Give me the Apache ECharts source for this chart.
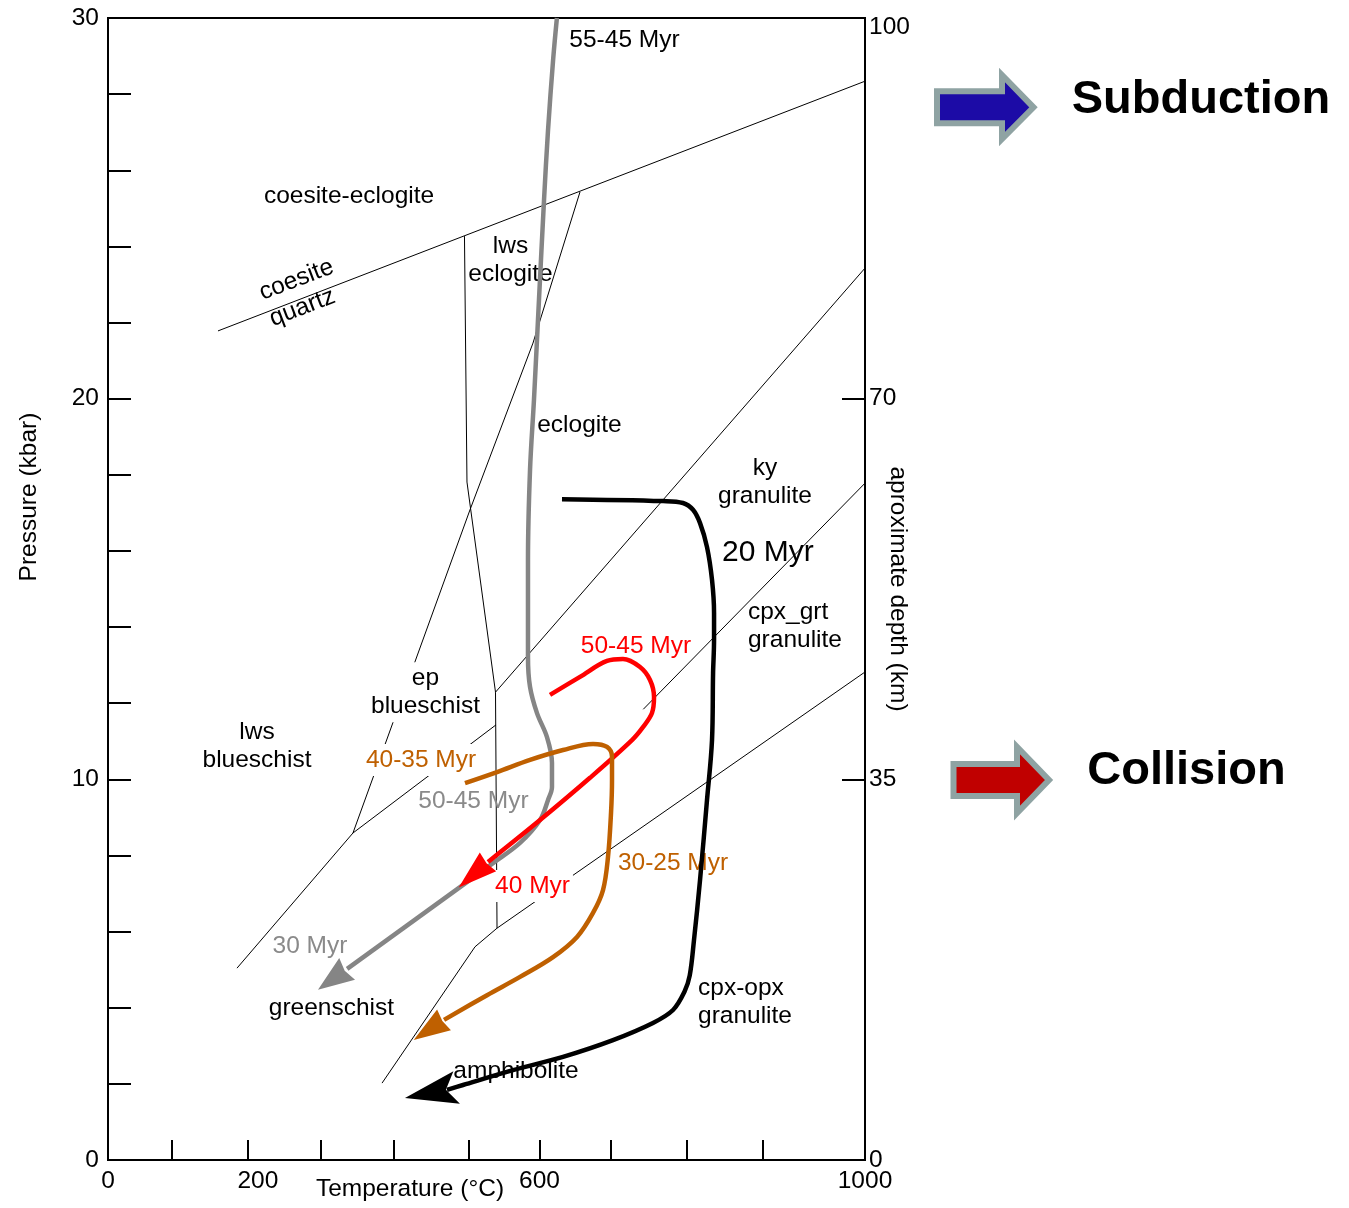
<!DOCTYPE html>
<html>
<head>
<meta charset="utf-8">
<title>P-T paths</title>
<script src="https://cdn.jsdelivr.net/npm/echarts@6/dist/echarts.min.js"></script>
<style>
  html, body { margin: 0; padding: 0; background: #ffffff; }
  #chart { width: 1349px; height: 1208px; }
</style>
</head>
<body>
<div id="chart"></div>
<script>
// All points are [temperature (°C), pressure (kbar)].

// Axis tick marks and labels
const tempTickValues = [84.5, 184.3, 281.4, 377.8, 476.2, 570.0, 664.5, 764.8, 864.6];
const tempLabelValues = [0, 198, 570, 1000];
const tempLabelTexts = ['0', '200', '600', '1000'];
const pressureLabelValues = [0, 10, 20, 30];
const depthTickValues = [10, 20];
const depthLabelValues = [0, 10, 20, 30];
const depthLabelTexts = ['0', '35', '70', '100'];

// Metamorphic facies boundaries
const coesiteQuartz = [[145.3, 21.78], [1000, 28.34]];
const lawsoniteOut = [[470.9, 24.27], [474.2, 17.81], [511.9, 12.29], [513.9, 6.09]];
const blueschistEclogite = [[623.5, 25.43], [561.4, 21.46], [478.2, 17.08], [323.6, 8.59], [170.4, 5.04]];
const eclogiteGranulite = [[1000, 23.43], [511.9, 12.29]];
const kyaniteCpxGrt = [[1000, 17.78], [707.1, 11.84]];
const blueschistGreenschist = [[512.5, 11.43], [323.6, 8.59]];
const amphiboliteGranulite = [[1000, 12.82], [513.9, 6.09], [484.8, 5.60], [362.0, 2.02]];

// P-T paths
const path5545 = [[593, 30], [588, 28.9], [581.3, 27.06], [576, 25.22], [569.3, 22.59], [562.7, 19.97],
  [557.5, 18.13], [554.8, 15.76], [554.8, 13.21], [557.5, 12.43], [566.7, 11.74], [579.9, 11.11],
  [586.5, 10.43], [586.5, 9.80], [581.3, 9.46], [570.7, 8.93], [544.3, 8.33], [508.6, 7.80],
  [465, 7.17], [315.9, 5.02]];
const path5045 = [[583.9, 12.22], [623.5, 12.69], [659.2, 13.11], [680.3, 13.16], [702.8, 12.95],
  [716, 12.61], [721.3, 12.16], [718.6, 11.74], [706.7, 11.37], [692.2, 11.03], [636.7, 10.04],
  [570.7, 8.93], [502, 7.83]];
const path4035 = [[471.6, 9.90], [513.9, 10.19], [557.5, 10.51], [601.1, 10.77], [640.7, 10.93],
  [659.2, 10.85], [665.8, 10.59], [665.8, 9.98], [664.5, 9.12], [660.5, 7.96], [653.9, 7.09],
  [640.7, 6.49], [619.6, 5.86], [587.9, 5.33], [544.3, 4.81], [500.7, 4.33], [443.9, 3.68]];
const path20 = [[599.7, 17.36], [733.2, 17.31], [759.6, 17.26], [772.8, 17.08], [782.1, 16.73],
  [791.3, 16.10], [797.9, 15.24], [800.6, 14.37], [800.6, 13.66], [799.3, 12.79], [797.9, 11.03],
  [791.3, 9.46], [782.1, 7.36], [774.1, 5.78], [768.5, 4.85], [761.5, 4.42], [746.4, 3.94],
  [719.9, 3.60], [667.1, 3.15], [601.1, 2.71], [535, 2.36], [469, 1.97], [447.8, 1.84]];

// Arrowheads: [tip T, tip P, back T, back P]
const head5545 = [277.4, 4.47, 315.9, 5.02];
const head5045 = [463.3, 7.16, 502, 7.83];
const head4035 = [403.8, 3.15, 443.9, 3.68];
const head20 = [392.3, 1.63, 460.6, 1.905];

// Field and age labels: [T, P, text]
const faciesLabels = [[318.4, 25.32, 'coesite-eclogite'], [531.7, 23.64, 'lws\neclogite'],
  [622.8, 19.31, 'eclogite'], [867.9, 17.81, 'ky\ngranulite'], [196.8, 10.88, 'lws\nblueschist'],
  [295.2, 3.99, 'greenschist'], [539.0, 2.34, 'amphibolite']];
const faciesLabelsLeft = [[845.4, 14.03, 'cpx_grt\ngranulite'], [779.4, 4.15, 'cpx-opx\ngranulite']];
const faciesLabelsMasked = [[419.4, 12.29, 'ep\nblueschist']];
const reactionLabels = [[249.0, 23.12, 'coesite'], [256.9, 22.39, 'quartz']];
const blackAgeLabels = [[682.3, 29.42, '55-45 Myr']];
const bigAgeLabels = [[871.8, 15.95, '20 Myr']];
const grayAgeLabels = [[482.8, 9.43, '50-45 Myr'], [266.8, 5.62, '30 Myr']];
const redAgeLabels = [[697.5, 13.50, '50-45 Myr']];
const redAgeLabelsMasked = [[560.8, 7.20, '40 Myr']];
const orangeAgeLabels = [[746.4, 7.80, '30-25 Myr']];
const orangeAgeLabelsMasked = [[413.5, 10.51, '40-35 Myr']];

const FONT = '"Liberation Sans", Arial, Helvetica, sans-serif';
const GRAY = '#858585';
const GRAY_TEXT = '#8a8a8a';
const RED = '#ff0000';
const ORANGE = '#bf6000';

function boundary(name, data) {
  return {
    type: 'line', name, data, z: 1, silent: true, showSymbol: false, symbol: 'none',
    lineStyle: { color: '#000', width: 1 }, animation: false
  };
}

function ptPath(name, data, color) {
  return {
    type: 'line', name, data, z: 3, silent: true, showSymbol: false, symbol: 'none',
    smooth: 0.35, lineStyle: { color, width: 4.5, cap: 'butt', join: 'round' }, animation: false
  };
}

function arrowHead(name, head, color, halfWidth, notch) {
  return {
    type: 'custom', name, z: 4, silent: true, animation: false,
    data: [head],
    encode: { x: [0, 2], y: [1, 3] },
    renderItem: function (params, api) {
      const tip = api.coord([api.value(0), api.value(1)]);
      const back = api.coord([api.value(2), api.value(3)]);
      let ux = tip[0] - back[0], uy = tip[1] - back[1];
      const len = Math.hypot(ux, uy);
      ux /= len; uy /= len;
      const nx = -uy, ny = ux;
      return {
        type: 'polygon',
        shape: {
          points: [
            tip,
            [back[0] + nx * halfWidth, back[1] + ny * halfWidth],
            [back[0] + ux * notch, back[1] + uy * notch],
            [back[0] - nx * halfWidth, back[1] - ny * halfWidth]
          ]
        },
        style: { fill: color }
      };
    }
  };
}

function labelSeries(name, items, labelStyle) {
  return {
    type: 'scatter', name, z: 2, silent: true, animation: false,
    symbolSize: 0,
    itemStyle: { opacity: 1 },
    data: items.map(d => ({ value: [d[0], d[1]], name: d[2] })),
    label: Object.assign({
      show: true, position: 'inside', formatter: p => p.name, opacity: 1,
      fontFamily: FONT, fontSize: 24.5, color: '#000', lineHeight: 28, align: 'center'
    }, labelStyle)
  };
}

const chart = echarts.init(document.getElementById('chart'), null, { renderer: 'canvas' });

const axisText = { fontFamily: FONT, fontSize: 24.5, color: '#000' };

chart.setOption({
  animation: false,
  backgroundColor: '#ffffff',
  grid: {
    left: 108, top: 18, right: 484, bottom: 48, containLabel: false, outerBoundsMode: 'none',
    show: true, borderColor: '#000', borderWidth: 2, backgroundColor: 'transparent'
  },
  xAxis: {
    type: 'value', min: 0, max: 1000,
    name: 'Temperature (°C)', nameLocation: 'middle', nameGap: 17, nameMoveOverlap: false,
    nameTextStyle: Object.assign({ padding: [0, 153, 0, 0] }, axisText),
    axisLine: { show: true, lineStyle: { color: '#000', width: 2 } },
    axisTick: { show: true, inside: true, length: 20, customValues: tempTickValues, lineStyle: { color: '#000', width: 2 } },
    axisLabel: Object.assign({
      margin: 9, customValues: tempLabelValues,
      formatter: v => tempLabelTexts[tempLabelValues.indexOf(v)] ?? ''
    }, axisText),
    splitLine: { show: false }
  },
  yAxis: [{
    type: 'value', min: 0, max: 30, interval: 2, position: 'left',
    name: 'Pressure (kbar)', nameLocation: 'middle', nameRotate: 90, nameGap: 66, nameMoveOverlap: false,
    nameTextStyle: Object.assign({ padding: [0, 0, 0, 184] }, axisText),
    axisLine: { show: true, lineStyle: { color: '#000', width: 2 } },
    axisTick: { show: true, inside: true, length: 23, lineStyle: { color: '#000', width: 2 } },
    axisLabel: Object.assign({ margin: 9, customValues: pressureLabelValues }, axisText),
    splitLine: { show: false }
  }, {
    type: 'value', min: 0, max: 30, position: 'right',
    name: 'aproximate depth (km)', nameLocation: 'middle', nameRotate: -90, nameGap: 20, nameMoveOverlap: false,
    nameTextStyle: axisText,
    axisLine: { show: true, lineStyle: { color: '#000', width: 2 } },
    axisTick: { show: true, inside: true, length: 23, customValues: depthTickValues, lineStyle: { color: '#000', width: 2 } },
    axisLabel: Object.assign({
      margin: 4, customValues: depthLabelValues,
      formatter: v => {
        const t = depthLabelTexts[depthLabelValues.indexOf(v)] ?? '';
        return v === 30 ? '{top|' + t + '}' : t;
      },
      rich: { top: { fontFamily: FONT, fontSize: 24.5, color: '#000', padding: [18, 0, 0, 0] } }
    }, axisText),
    splitLine: { show: false }
  }],
  series: [
    boundary('coesite-quartz', coesiteQuartz),
    boundary('lawsonite-out', lawsoniteOut),
    boundary('blueschist-eclogite', blueschistEclogite),
    boundary('eclogite-granulite', eclogiteGranulite),
    boundary('ky-cpx_grt', kyaniteCpxGrt),
    boundary('blueschist-greenschist', blueschistGreenschist),
    boundary('amphibolite-granulite', amphiboliteGranulite),

    labelSeries('facies', faciesLabels, {}),
    labelSeries('facies-left', faciesLabelsLeft, { position: 'right', distance: 0, align: 'left' }),
    labelSeries('facies-masked', faciesLabelsMasked, { backgroundColor: '#ffffff', padding: [2, 3] }),
    labelSeries('reaction', reactionLabels, { rotate: 21 }),
    labelSeries('age-black', blackAgeLabels, {}),
    labelSeries('age-big', bigAgeLabels, { fontSize: 30 }),
    labelSeries('age-gray', grayAgeLabels, { color: GRAY_TEXT }),
    labelSeries('age-red', redAgeLabels, { color: RED }),
    labelSeries('age-red-masked', redAgeLabelsMasked, { color: RED, backgroundColor: '#ffffff', padding: [2, 3] }),
    labelSeries('age-orange', orangeAgeLabels, { color: ORANGE }),
    labelSeries('age-orange-masked', orangeAgeLabelsMasked, { color: ORANGE, backgroundColor: '#ffffff', padding: [2, 3] }),

    ptPath('55-45 Myr', path5545, GRAY),
    ptPath('50-45 Myr', path5045, RED),
    ptPath('40-35 Myr', path4035, ORANGE),
    ptPath('20 Myr', path20, '#000'),

    arrowHead('55-45 Myr head', head5545, GRAY, 13.5, 3),
    arrowHead('50-45 Myr head', head5045, RED, 12.5, 2),
    arrowHead('40-35 Myr head', head4035, ORANGE, 12.5, 2),
    arrowHead('20 Myr head', head20, '#000', 16.5, 11)
  ],
  graphic: [
    {
      type: 'polygon', z: 10,
      shape: { points: [[937, 91.3], [1002, 91.3], [1002, 75], [1033.5, 107.3], [1002, 139], [1002, 123.3], [937, 123.3]] },
      style: { fill: '#1c0ba6', stroke: '#8fa3a3', lineWidth: 6, lineJoin: 'miter' }
    },
    {
      type: 'text', z: 10, x: 1201, y: 100,
      style: { text: 'Subduction', fontFamily: FONT, fontSize: 47, fontWeight: 'bold', fill: '#000', align: 'center', verticalAlign: 'middle' }
    },
    {
      type: 'polygon', z: 10,
      shape: { points: [[953.5, 764], [1017, 764], [1017, 747], [1049, 780], [1017, 813], [1017, 796], [953.5, 796]] },
      style: { fill: '#c00000', stroke: '#8fa3a3', lineWidth: 6, lineJoin: 'miter' }
    },
    {
      type: 'text', z: 10, x: 1186.5, y: 771,
      style: { text: 'Collision', fontFamily: FONT, fontSize: 47, fontWeight: 'bold', fill: '#000', align: 'center', verticalAlign: 'middle' }
    }
  ]
});
</script>
</body>
</html>
